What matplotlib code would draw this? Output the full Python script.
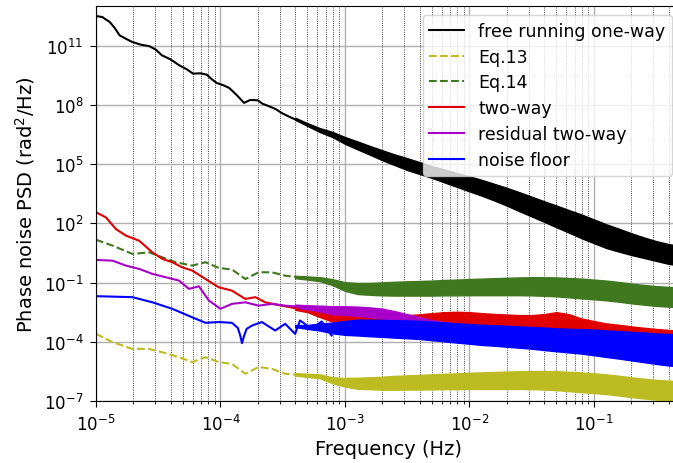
import numpy as np
import matplotlib
matplotlib.use("Agg")
import matplotlib.pyplot as plt
from matplotlib.ticker import LogLocator, NullLocator, NullFormatter

# 1: low-frequency part of each curve (log10 Hz, log10 rad^2/Hz)
black_logf = [-5.0, -4.95, -4.89, -4.85, -4.81, -4.76, -4.71, -4.64, -4.57, -4.52, -4.47,
              -4.40, -4.33, -4.27, -4.22, -4.16, -4.11, -4.07, -4.03, -3.98, -3.93, -3.87,
              -3.81, -3.76, -3.70, -3.66, -3.63, -3.56, -3.50, -3.43, -3.36]
black_logp = [12.5, 12.45, 12.2, 11.9, 11.52, 11.35, 11.19, 11.05, 10.97, 10.8, 10.51,
              10.3, 10.0, 9.8, 9.58, 9.6, 9.53, 9.3, 9.11, 9.0, 8.86, 8.5,
              8.1, 8.25, 8.23, 8.05, 7.98, 7.8, 7.56, 7.35, 7.15]

eq13_logf = [-5.0, -4.867, -4.707, -4.573, -4.467, -4.333, -4.227, -4.12, -4.013, -3.907,
             -3.8, -3.693, -3.587, -3.48, -3.373]
eq13_logp = [-3.6, -4.02, -4.36, -4.36, -4.53, -4.78, -5.03, -4.78, -5.03, -5.12,
             -5.62, -5.28, -5.37, -5.62, -5.68]

eq14_logf = [-5.0, -4.867, -4.707, -4.573, -4.467, -4.36, -4.227, -4.12, -4.013, -3.907,
             -3.8, -3.693, -3.587, -3.48, -3.373]
eq14_logp = [1.17, 0.87, 0.45, 0.53, 0.28, 0.03, -0.14, 0.03, -0.26, -0.34,
             -0.82, -0.48, -0.48, -0.65, -0.73]

twoway_logf = [-5.0, -4.92, -4.84, -4.76, -4.653, -4.547, -4.467, -4.387, -4.307, -4.227,
               -4.12, -4.013, -3.907, -3.8, -3.72, -3.64, -3.507, -3.373]
twoway_logp = [2.56, 2.30, 1.71, 1.38, 1.12, 0.53, 0.20, 0.03, -0.23, -0.39,
               -0.82, -1.24, -1.41, -1.83, -1.74, -2.0, -2.17, -2.33]

resid_logf = [-5.0, -4.867, -4.76, -4.653, -4.547, -4.44, -4.333, -4.253, -4.173, -4.093,
              -4.0, -3.907, -3.8, -3.693, -3.587, -3.48, -3.373]
resid_logp = [0.145, 0.11, -0.14, -0.31, -0.56, -0.73, -0.9, -1.32, -1.19, -1.91,
              -2.33, -2.08, -2.0, -2.17, -2.08, -2.17, -2.22]

floor_logf = [-5.0, -4.707, -4.547, -4.387, -4.227, -4.12, -4.013, -3.907, -3.86, -3.84,
              -3.827, -3.81, -3.79, -3.747, -3.667, -3.56, -3.48, -3.4, -3.36, -3.267,
              -3.187, -3.107]
floor_logp = [-1.69, -1.74, -2.0, -2.33, -2.76, -3.04, -3.0, -3.04, -3.3, -3.7,
              -4.07, -3.7, -3.35, -3.18, -3.0, -3.43, -3.09, -3.6, -2.92, -3.35,
              -2.97, -3.68]

# 2: above ~4e-4 Hz the curves are dense noise -> band centre and half-width (decades)
band_logf = [-3.4, -3.3, -3.2, -3.1, -3.0, -2.9, -2.8, -2.7, -2.6, -2.5, -2.4, -2.3, -2.2, -2.1,
             -2.0, -1.9, -1.8, -1.7, -1.6, -1.5, -1.4, -1.3, -1.2, -1.1, -1.0, -0.9, -0.8,
             -0.7, -0.6, -0.5, -0.4, -0.3]

black_mid = [7.3, 7.0, 6.72, 6.5, 6.2, 5.95, 5.7, 5.45, 5.22, 5.0, 4.8, 4.6, 4.4, 4.2,
             4.0, 3.8, 3.58, 3.35, 3.1, 2.85, 2.6, 2.35, 2.1, 1.85, 1.6, 1.35, 1.15,
             0.95, 0.77, 0.6, 0.45, 0.35]
black_spread = [0.05, 0.07, 0.1, 0.13, 0.17, 0.2, 0.22, 0.25, 0.27, 0.3, 0.3, 0.3, 0.33, 0.35,
                0.38, 0.4, 0.42, 0.45, 0.48, 0.5, 0.52, 0.55, 0.57, 0.6, 0.6, 0.6, 0.58,
                0.55, 0.52, 0.5, 0.5, 0.5]

eq13_mid = [-5.65, -5.7, -5.75, -5.95, -6.05, -6.1, -6.1, -6.1, -6.08, -6.06, -6.05, -6.03, -6.01, -6.0,
            -5.98, -5.97, -5.96, -5.95, -5.94, -5.94, -5.95, -5.97, -6.01, -6.05, -6.1, -6.15, -6.22,
            -6.3, -6.37, -6.43, -6.47, -6.5]
eq14_mid = [-0.72, -0.77, -0.83, -0.98, -1.2, -1.3, -1.32, -1.32, -1.31, -1.3, -1.29, -1.28, -1.26, -1.25,
            -1.23, -1.22, -1.21, -1.2, -1.19, -1.19, -1.2, -1.22, -1.26, -1.3, -1.35, -1.4, -1.47,
            -1.55, -1.62, -1.68, -1.72, -1.75]
eq_spread = [0.06, 0.08, 0.1, 0.15, 0.22, 0.28, 0.3, 0.33, 0.35, 0.36, 0.37, 0.38, 0.39, 0.4,
             0.41, 0.42, 0.43, 0.44, 0.45, 0.46, 0.47, 0.48, 0.49, 0.5, 0.5, 0.5, 0.5,
             0.5, 0.5, 0.5, 0.5, 0.5]

twoway_mid = [-2.3, -2.4, -2.6, -2.78, -2.85, -2.9, -2.95, -2.97, -2.97, -2.97, -2.95, -2.92, -2.9, -2.9,
              -2.9, -2.95, -2.97, -3.0, -3.03, -3.05, -3.05, -3.0, -3.05, -3.2, -3.3, -3.4, -3.47,
              -3.55, -3.62, -3.68, -3.73, -3.78]
twoway_spread = [0.08, 0.1, 0.15, 0.2, 0.23, 0.25, 0.27, 0.28, 0.3, 0.32, 0.34, 0.37, 0.4, 0.42,
                 0.4, 0.4, 0.38, 0.38, 0.38, 0.4, 0.45, 0.5, 0.45, 0.38, 0.35, 0.33, 0.33,
                 0.33, 0.33, 0.33, 0.33, 0.33]

resid_mid = [-2.2, -2.25, -2.32, -2.4, -2.42, -2.45, -2.5, -2.57, -2.7, -2.85, -3.0, -3.15, -3.25, -3.35,
             -3.4, -3.45, -3.5, -3.55, -3.6, -3.65, -3.7, -3.74, -3.78, -3.82, -3.86, -3.9, -3.94,
             -3.98, -4.02, -4.05, -4.08, -4.1]
resid_spread = [0.08, 0.1, 0.15, 0.2, 0.22, 0.23, 0.24, 0.25, 0.25, 0.25, 0.25, 0.25, 0.25, 0.25,
                0.25, 0.25, 0.26, 0.26, 0.27, 0.27, 0.28, 0.28, 0.29, 0.29, 0.3, 0.3, 0.3,
                0.3, 0.3, 0.3, 0.3, 0.3]

floor_mid = [-3.2, -3.25, -3.25, -3.3, -3.3, -3.28, -3.3, -3.32, -3.35, -3.37, -3.4, -3.45, -3.5, -3.55,
             -3.6, -3.65, -3.68, -3.72, -3.76, -3.8, -3.85, -3.9, -3.94, -3.98, -4.03, -4.1, -4.15,
             -4.22, -4.28, -4.35, -4.4, -4.45]
floor_spread = [0.05, 0.1, 0.18, 0.27, 0.35, 0.4, 0.42, 0.43, 0.44, 0.45, 0.46, 0.47, 0.48, 0.49,
                0.5, 0.51, 0.52, 0.53, 0.54, 0.55, 0.57, 0.58, 0.6, 0.62, 0.65, 0.67, 0.7,
                0.72, 0.75, 0.77, 0.8, 0.8]

labels = ["free running one-way", "Eq.13", "Eq.14", "two-way", "residual two-way", "noise floor"]
y_ticks = [1e-7, 1e-4, 1e-1, 1e2, 1e5, 1e8, 1e11]

# 3: plot
series = [
    (black_logf, black_logp, black_mid, black_spread, "k", "-"),
    (eq13_logf, eq13_logp, eq13_mid, eq_spread, "#bcbc22", "--"),
    (eq14_logf, eq14_logp, eq14_mid, eq_spread, "#3f781e", "--"),
    (twoway_logf, twoway_logp, twoway_mid, twoway_spread, "#e00000", "-"),
    (resid_logf, resid_logp, resid_mid, resid_spread, "#a800c8", "-"),
    (floor_logf, floor_logp, floor_mid, floor_spread, "#0000ff", "-"),
]

fig = plt.figure(figsize=(6.73, 4.64), dpi=100)
ax = fig.add_axes([0.1426, 0.1336, 0.869, 0.851])

bf = 10 ** np.array(band_logf)
for (lf, lp, mid, spr, col, ls), lab in zip(series, labels):
    mid = np.array(mid)
    spr = np.array(spr)
    ax.plot(10 ** np.array(lf), 10 ** np.array(lp), color=col, ls=ls, lw=1.5, label=lab)
    ax.fill_between(bf, 10 ** (mid - spr), 10 ** (mid + spr), color=col, lw=1.0, edgecolor=col)

ax.set_xscale("log")
ax.set_yscale("log")
ax.set_xlim(1e-5, 0.5)
ax.set_ylim(1e-7, 1e13)
ax.set_yticks(y_ticks)
ax.yaxis.set_minor_locator(NullLocator())
ax.yaxis.set_minor_formatter(NullFormatter())
ax.xaxis.set_minor_locator(LogLocator(base=10, subs=np.arange(2, 10), numticks=20))
ax.xaxis.set_minor_formatter(NullFormatter())

ax.grid(True, which="major", color="#b0b0b0", lw=1.0)
ax.grid(True, which="minor", axis="x", color="k", ls=":", lw=0.6)
ax.set_axisbelow(True)
ax.tick_params(which="major", labelsize=12, direction="out", length=4.5, pad=4.5)
ax.tick_params(which="minor", direction="out", length=2.5)

ax.set_xlabel("Frequency (Hz)", fontsize=14)
ax.set_ylabel(r"Phase noise PSD (rad$^2$/Hz)", fontsize=14, labelpad=5)

ax.legend(loc="upper right", fontsize=12.5, framealpha=0.8, edgecolor="#cccccc",
          labelspacing=0.45)

fig.savefig("out.png", dpi=100)
